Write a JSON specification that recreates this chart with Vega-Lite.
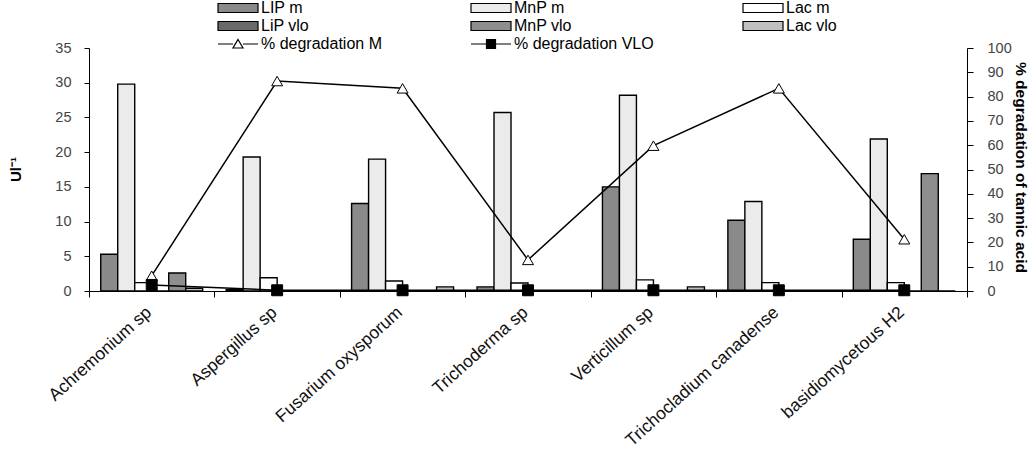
{
  "$schema": "https://vega.github.io/schema/vega-lite/v6.json",
  "width": 878,
  "height": 243,
  "autosize": {"type": "none"},
  "padding": {"left": 89, "top": 48, "right": 65, "bottom": 175},
  "config": {
    "font": "Liberation Sans",
    "view": {"stroke": null},
    "axis": {"grid": false, "domainColor": "black", "tickColor": "black", "domainWidth": 1, "tickWidth": 1}
  },
  "data": {
    "values": [
      {"kind": "bar", "fungus": "Achremonium sp", "series": "LIP m", "value": 5.3},
      {"kind": "bar", "fungus": "Achremonium sp", "series": "MnP m", "value": 29.8},
      {"kind": "bar", "fungus": "Achremonium sp", "series": "Lac m", "value": 1.2},
      {"kind": "bar", "fungus": "Achremonium sp", "series": "LiP vlo", "value": 0},
      {"kind": "bar", "fungus": "Achremonium sp", "series": "MnP vlo", "value": 2.6},
      {"kind": "bar", "fungus": "Achremonium sp", "series": "Lac vlo", "value": 0.4},
      {"kind": "bar", "fungus": "Aspergillus sp", "series": "LIP m", "value": 0.2},
      {"kind": "bar", "fungus": "Aspergillus sp", "series": "MnP m", "value": 19.3},
      {"kind": "bar", "fungus": "Aspergillus sp", "series": "Lac m", "value": 1.9},
      {"kind": "bar", "fungus": "Aspergillus sp", "series": "LiP vlo", "value": 0},
      {"kind": "bar", "fungus": "Aspergillus sp", "series": "MnP vlo", "value": 0},
      {"kind": "bar", "fungus": "Aspergillus sp", "series": "Lac vlo", "value": 0},
      {"kind": "bar", "fungus": "Fusarium oxysporum", "series": "LIP m", "value": 12.6},
      {"kind": "bar", "fungus": "Fusarium oxysporum", "series": "MnP m", "value": 19.0},
      {"kind": "bar", "fungus": "Fusarium oxysporum", "series": "Lac m", "value": 1.45},
      {"kind": "bar", "fungus": "Fusarium oxysporum", "series": "LiP vlo", "value": 0},
      {"kind": "bar", "fungus": "Fusarium oxysporum", "series": "MnP vlo", "value": 0},
      {"kind": "bar", "fungus": "Fusarium oxysporum", "series": "Lac vlo", "value": 0.6},
      {"kind": "bar", "fungus": "Trichoderma sp", "series": "LIP m", "value": 0.6},
      {"kind": "bar", "fungus": "Trichoderma sp", "series": "MnP m", "value": 25.7},
      {"kind": "bar", "fungus": "Trichoderma sp", "series": "Lac m", "value": 1.15},
      {"kind": "bar", "fungus": "Trichoderma sp", "series": "LiP vlo", "value": 0},
      {"kind": "bar", "fungus": "Trichoderma sp", "series": "MnP vlo", "value": 0},
      {"kind": "bar", "fungus": "Trichoderma sp", "series": "Lac vlo", "value": 0},
      {"kind": "bar", "fungus": "Verticillum sp", "series": "LIP m", "value": 15.0},
      {"kind": "bar", "fungus": "Verticillum sp", "series": "MnP m", "value": 28.2},
      {"kind": "bar", "fungus": "Verticillum sp", "series": "Lac m", "value": 1.6},
      {"kind": "bar", "fungus": "Verticillum sp", "series": "LiP vlo", "value": 0},
      {"kind": "bar", "fungus": "Verticillum sp", "series": "MnP vlo", "value": 0},
      {"kind": "bar", "fungus": "Verticillum sp", "series": "Lac vlo", "value": 0.6},
      {"kind": "bar", "fungus": "Trichocladium canadense", "series": "LIP m", "value": 10.2},
      {"kind": "bar", "fungus": "Trichocladium canadense", "series": "MnP m", "value": 12.9},
      {"kind": "bar", "fungus": "Trichocladium canadense", "series": "Lac m", "value": 1.2},
      {"kind": "bar", "fungus": "Trichocladium canadense", "series": "LiP vlo", "value": 0},
      {"kind": "bar", "fungus": "Trichocladium canadense", "series": "MnP vlo", "value": 0},
      {"kind": "bar", "fungus": "Trichocladium canadense", "series": "Lac vlo", "value": 0},
      {"kind": "bar", "fungus": "basidiomycetous H2", "series": "LIP m", "value": 7.45},
      {"kind": "bar", "fungus": "basidiomycetous H2", "series": "MnP m", "value": 21.9},
      {"kind": "bar", "fungus": "basidiomycetous H2", "series": "Lac m", "value": 1.2},
      {"kind": "bar", "fungus": "basidiomycetous H2", "series": "LiP vlo", "value": 0},
      {"kind": "bar", "fungus": "basidiomycetous H2", "series": "MnP vlo", "value": 16.9},
      {"kind": "bar", "fungus": "basidiomycetous H2", "series": "Lac vlo", "value": 0},
      {"kind": "pct", "fungus": "Achremonium sp", "series": "% degradation M", "value": 6.3},
      {"kind": "pct", "fungus": "Aspergillus sp", "series": "% degradation M", "value": 86.4},
      {"kind": "pct", "fungus": "Fusarium oxysporum", "series": "% degradation M", "value": 83.4},
      {"kind": "pct", "fungus": "Trichoderma sp", "series": "% degradation M", "value": 12.8},
      {"kind": "pct", "fungus": "Verticillum sp", "series": "% degradation M", "value": 59.8},
      {"kind": "pct", "fungus": "Trichocladium canadense", "series": "% degradation M", "value": 83.4},
      {"kind": "pct", "fungus": "basidiomycetous H2", "series": "% degradation M", "value": 21.3},
      {"kind": "pct", "fungus": "Achremonium sp", "series": "% degradation VLO", "value": 2.5},
      {"kind": "pct", "fungus": "Aspergillus sp", "series": "% degradation VLO", "value": 0.3},
      {"kind": "pct", "fungus": "Fusarium oxysporum", "series": "% degradation VLO", "value": 0.3},
      {"kind": "pct", "fungus": "Trichoderma sp", "series": "% degradation VLO", "value": 0.3},
      {"kind": "pct", "fungus": "Verticillum sp", "series": "% degradation VLO", "value": 0.3},
      {"kind": "pct", "fungus": "Trichocladium canadense", "series": "% degradation VLO", "value": 0.3},
      {"kind": "pct", "fungus": "basidiomycetous H2", "series": "% degradation VLO", "value": 0.3}
    ]
  },
  "layer": [
    {
      "transform": [{"filter": "datum.kind == 'bar'"}],
      "mark": {"type": "bar", "stroke": "black", "strokeWidth": 1.4, "opacity": 1},
      "encoding": {
        "x": {
          "field": "fungus", "type": "nominal",
          "sort": ["Achremonium sp", "Aspergillus sp", "Fusarium oxysporum", "Trichoderma sp", "Verticillum sp", "Trichocladium canadense", "basidiomycetous H2"],
          "scale": {"paddingInner": 0, "paddingOuter": 0},
          "axis": {"title": null, "tickBand": "extent", "tickSize": 6, "labelAngle": -42, "labelAlign": "right", "labelBaseline": "top", "labelFontSize": 17.5, "labelColor": "#111", "labelPadding": 6, "labelOffset": -9, "labelLimit": 400}
        },
        "xOffset": {
          "field": "series", "type": "nominal",
          "sort": ["LIP m", "MnP m", "Lac m", "LiP vlo", "MnP vlo", "Lac vlo"],
          "scale": {"paddingInner": 0, "paddingOuter": 0.69}
        },
        "y": {
          "field": "value", "type": "quantitative",
          "scale": {"domain": [0, 35]},
          "axis": {"values": [0, 5, 10, 15, 20, 25, 30, 35], "title": "Ul⁻¹", "titleFontSize": 15, "titleFontWeight": "bold", "titleX": -66, "titleY": 121, "titleAngle": -90, "labelFontSize": 14.5, "labelColor": "#444", "tickSize": 5, "labelPadding": 13}
        },
        "fill": {
          "field": "series", "type": "nominal",
          "scale": {
            "domain": ["LIP m", "MnP m", "Lac m", "LiP vlo", "MnP vlo", "Lac vlo", "% degradation M", "% degradation VLO"],
            "range": ["#8a8a8a", "#ebebeb", "#ffffff", "#6a6a6a", "#8e8e8e", "#c0c0c0", "#ffffff", "#000000"]
          },
          "legend": {
            "title": null,
            "orient": "none",
            "legendX": 126,
            "legendY": -48,
            "direction": "horizontal",
            "columns": 3,
            "columnPadding": 86,
            "rowPadding": 2,
            "gridAlign": "each",
            "symbolSize": 100,
            "symbolOpacity": 1,
            "symbolStrokeColor": "black",
            "symbolStrokeWidth": 1.2,
            "labelFontSize": 16,
            "labelColor": "black",
            "labelOffset": 30,
            "labelLimit": 300,
            "encode": {
              "symbols": {
                "update": {
                  "shape": {"signal": "datum.value === '% degradation M' ? 'M-1,0H2M4,0H7M3,-0.9L4,0.8L2,0.8Z' : (datum.value === '% degradation VLO' ? 'M-1,0H7M2.1,-0.9H3.9V0.9H2.1Z' : 'M-1,-0.9H7V0.9H-1Z')"},
                  "stroke": {"value": "black"},
                  "strokeWidth": {"value": 1.2}
                }
              }
            }
          }
        }
      }
    },
    {
      "transform": [{"filter": "datum.kind == 'pct'"}],
      "encoding": {
        "x": {
          "field": "fungus", "type": "nominal",
          "sort": ["Achremonium sp", "Aspergillus sp", "Fusarium oxysporum", "Trichoderma sp", "Verticillum sp", "Trichocladium canadense", "basidiomycetous H2"]
        },
        "y": {
          "field": "value", "type": "quantitative",
          "scale": {"domain": [0, 100]},
          "axis": {"orient": "right", "values": [0, 10, 20, 30, 40, 50, 60, 70, 80, 90, 100], "title": "% degradation of tannic acid", "titleFontSize": 15.5, "titleFontWeight": "bold", "titleAngle": 90, "titleX": 45, "titleY": 119, "labelFontSize": 14.5, "labelColor": "#444", "tickSize": 6, "labelPadding": 14}
        }
      },
      "layer": [
        {
          "mark": {"type": "line", "color": "black", "strokeWidth": 1.5},
          "encoding": {"detail": {"field": "series"}}
        },
        {
          "mark": {"type": "point", "filled": true, "stroke": "black", "strokeWidth": 1, "opacity": 1, "size": 120},
          "encoding": {
            "fill": {"field": "series", "type": "nominal"},
            "shape": {"field": "series", "type": "nominal", "scale": {"domain": ["% degradation M", "% degradation VLO"], "range": ["triangle-up", "square"]}, "legend": null}
          }
        }
      ]
    }
  ],
  "resolve": {"scale": {"y": "independent"}}
}
